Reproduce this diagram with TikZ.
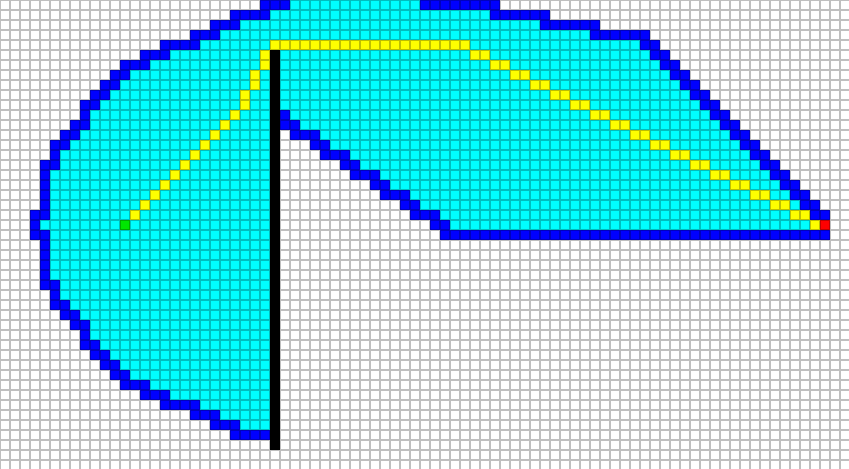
\documentclass[tikz,border=0pt]{standalone}
\definecolor{cy}{RGB}{0,255,255}
\definecolor{bl}{RGB}{0,0,255}
\definecolor{ye}{RGB}{255,255,0}
\definecolor{gr}{RGB}{0,230,0}
\definecolor{re}{RGB}{255,0,0}
\tikzset{gridline/.style={draw=black,opacity=0.25,line width=0.9pt}}
\begin{document}
\begin{tikzpicture}[x=0.25cm,y=-0.25cm]
\useasboundingbox (0,0) rectangle (84.9,46.9);
\fill[white] (0,0) rectangle (84.9,46.9);
% cyan interior
\foreach \r/\a/\b in {0/29/41,1/27/48,2/24/53,3/22/58,4/20/63,5/17/64,6/15/65,7/13/66,8/12/67,9/11/68,10/10/69,11/9/70,12/9/71,13/8/72,14/7/73,15/6/74,16/6/75,17/5/76,18/5/77,19/5/78,20/5/79,21/5/80,22/4/81,23/5/26,24/5/26,25/5/26,26/5/26,27/5/26,28/6/26,29/6/26,30/7/26,31/8/26,32/9/26,33/9/26,34/10/26,35/11/26,36/12/26,37/13/26,38/15/26,39/17/26,40/20/26,41/22/26,42/24/26}
  \fill[cy] (\a,\r) rectangle ({\b+1},{\r+1});
% white notch
\foreach \r/\a/\b in {13/28/28,14/28/30,15/28/31,16/28/33,17/28/34,18/28/36,19/28/37,20/28/39,21/28/40,22/28/42}
  \fill[white] (\a,\r) rectangle ({\b+1},{\r+1});
% blue boundary
\foreach \r/\a/\b in {0/26/28,0/42/49,1/23/26,1/49/54,2/21/23,2/54/59,3/19/21,3/59/64,4/16/19,4/64/65,5/14/16,5/65/66,6/12/14,6/66/67,7/11/12,7/67/68,8/10/11,8/68/69,9/9/10,9/69/70,10/8/9,10/70/71,11/8/8,11/28/28,11/71/72,12/7/8,12/28/29,12/72/73,13/6/7,13/29/31,13/73/74,14/5/6,14/31/32,14/74/75,15/5/5,15/32/34,15/75/76,16/4/5,16/34/35,16/76/77,17/4/4,17/35/37,17/77/78,18/4/4,18/37/38,18/78/79,19/4/4,19/38/40,19/79/80,20/4/4,20/40/41,20/80/81,21/3/4,21/41/43,21/81/82,22/3/3,22/43/44,23/3/4,23/44/82,24/4/4,25/4/4,26/4/4,27/4/4,28/4/5,29/5/5,30/5/6,31/6/7,32/7/8,33/8/8,34/8/9,35/9/10,36/10/11,37/11/12,38/12/14,39/14/16,40/16/19,41/19/21,42/21/23,43/23/26}
  \fill[bl] (\a,\r) rectangle ({\b+1},{\r+1});
% yellow path
\fill[ye] (27,4) rectangle (47,5);
\foreach \r in {5,...,21}
  \fill[ye] ({47+2*(\r-5)},\r) rectangle ({49+2*(\r-5)},{\r+1});
\fill[ye] (81,22) rectangle (82,23);
\foreach \c/\r in {26/5,26/6,25/7,25/8,24/9,24/10,23/11,22/12,21/13,20/14,19/15,18/16,17/17,16/18,15/19,14/20,13/21}
  \fill[ye] (\c,\r) rectangle ({\c+1},{\r+1});
% start and goal
\fill[gr] (12,22) rectangle (13,23);
\fill[re] (82,22) rectangle (83,23);
% black wall
\fill[black] (27,5) rectangle (28,45);
% grid
\draw[gridline] \foreach \i in {0,...,84} {(\i,0) -- (\i,46.9)} \foreach \j in {0,...,46} {(0,\j) -- (84.9,\j)};
\end{tikzpicture}
\end{document}
